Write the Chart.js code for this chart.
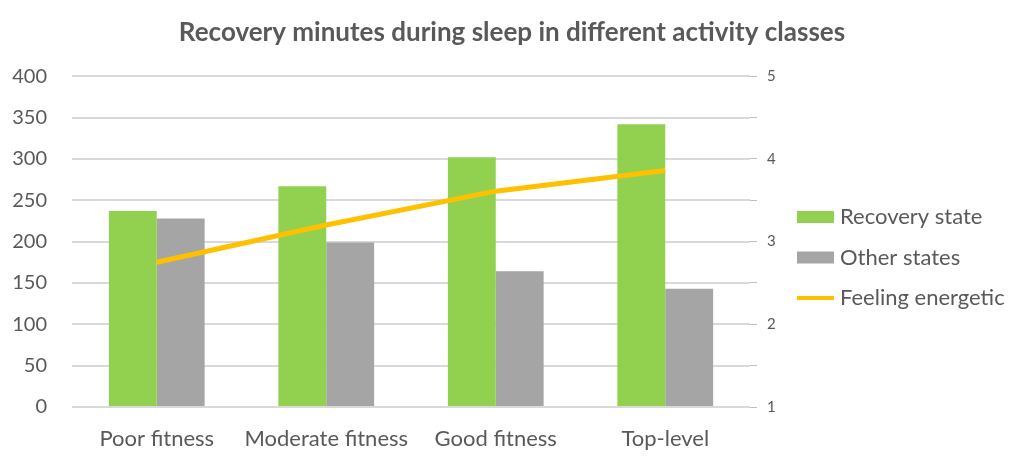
<!DOCTYPE html>
<html lang="en">
  <head>
    <meta charset="UTF-8" />
    <title>Recovery minutes during sleep</title>
    <script src="https://cdn.jsdelivr.net/npm/chart.js"></script>
    <style>
      body {
        margin: 0;
        background: #ffffff;
      }
      .wrap {
        width: 1024px;
        height: 464px;
        position: relative;
      }
    </style>
  </head>
  <body>
    <div class="wrap">
      <canvas id="chart" width="1024" height="464"></canvas>
    </div>

    <script>
      const categories = ["Poor fitness", "Moderate fitness", "Good fitness", "Top-level"];
      const recoveryState = [237, 267, 302, 342];
      const otherStates = [228, 199, 164, 143];
      const feelingEnergetic = [2.75, 3.2, 3.61, 3.86];
      const leftTicks = [0, 50, 100, 150, 200, 250, 300, 350, 400];
      const rightTicks = [1, 2, 3, 4, 5];

      const textGrey = "#595959";
      const font = "Lato, 'Open Sans', sans-serif";

      // legend on the right, drawn by hand (the built-in one gets squeezed)
      const sideLegend = {
        id: "sideLegend",
        afterDraw(chart) {
          const c = chart.ctx;
          const area = chart.chartArea;
          const x = area.right + 47;
          let y = area.bottom - 190;
          c.save();
          c.font = "22px " + font;
          c.textBaseline = "middle";
          chart.data.datasets.forEach((ds) => {
            if (ds.type === "line") {
              c.strokeStyle = ds.borderColor;
              c.lineWidth = 4;
              c.beginPath();
              c.moveTo(x, y);
              c.lineTo(x + 37, y);
              c.stroke();
            } else {
              c.fillStyle = ds.backgroundColor;
              c.fillRect(x, y - 6, 37, 12);
            }
            c.fillStyle = textGrey;
            c.fillText(ds.label, x + 43, y);
            y += 40.5;
          });
          c.restore();
        },
      };

      const ctx = document.getElementById("chart").getContext("2d");

      new Chart(ctx, {
        data: {
          labels: categories,
          datasets: [
            {
              type: "bar",
              label: "Recovery state",
              data: recoveryState,
              yAxisID: "y",
              backgroundColor: "#92D050",
              barPercentage: 1,
              categoryPercentage: 0.565,
              order: 2,
            },
            {
              type: "bar",
              label: "Other states",
              data: otherStates,
              yAxisID: "y",
              backgroundColor: "#A5A5A5",
              barPercentage: 1,
              categoryPercentage: 0.565,
              order: 2,
            },
            {
              type: "line",
              label: "Feeling energetic",
              data: feelingEnergetic,
              yAxisID: "y1",
              borderColor: "#FFC000",
              backgroundColor: "#FFC000",
              borderWidth: 5,
              pointRadius: 0,
              tension: 0,
              order: 0,
            },
          ],
        },
        options: {
          responsive: false,
          animation: false,
          layout: { padding: 0 },
          plugins: {
            title: {
              display: true,
              text: "Recovery minutes during sleep in different activity classes",
              color: textGrey,
              font: { family: font, size: 26, weight: "bold" },
              padding: { top: 17, bottom: 28 },
            },
            legend: { display: false },
            tooltip: { enabled: false },
          },
          scales: {
            x: {
              grid: { display: false },
              border: { display: false },
              afterFit: (scale) => {
                scale.height = 57;
              },
              ticks: {
                color: textGrey,
                padding: 11,
                maxRotation: 0,
                minRotation: 0,
                autoSkip: false,
                font: { family: font, size: 22 },
              },
            },
            y: {
              position: "left",
              min: 0,
              max: 400,
              afterBuildTicks: (scale) => {
                scale.ticks = leftTicks.map((v) => ({ value: v }));
              },
              afterFit: (scale) => {
                scale.width = 72;
              },
              grid: { color: "#D9D9D9", lineWidth: 2, drawTicks: false },
              border: { display: false },
              ticks: {
                color: textGrey,
                padding: 25,
                font: { family: font, size: 20 },
              },
            },
            y1: {
              position: "right",
              min: 1,
              max: 5,
              ticks: {
                stepSize: 0.5,
                color: textGrey,
                padding: 10,
                font: { family: font, size: 15 },
                callback: (v) => (rightTicks.includes(v) ? v : ""),
              },
              afterFit: (scale) => {
                // leaves room for the hand-drawn legend too
                scale.width = 274;
              },
              grid: {
                drawOnChartArea: false,
                color: "#BFBFBF",
                tickLength: 7,
              },
              border: { display: false },
            },
          },
        },
        plugins: [sideLegend],
      });
    </script>
  </body>
</html>
